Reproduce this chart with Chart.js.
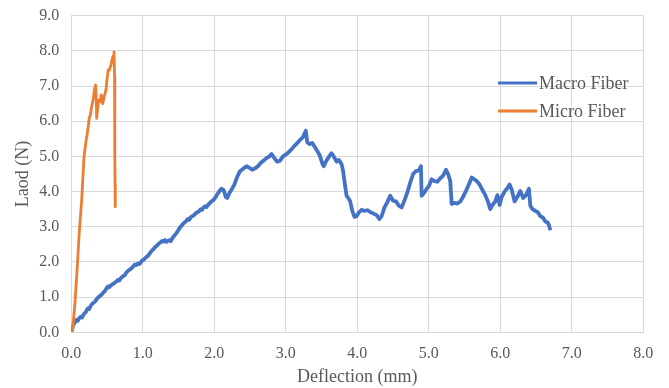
<!DOCTYPE html>
<html>
<head>
<meta charset="utf-8">
<title>Load vs Deflection</title>
<script src="https://cdn.jsdelivr.net/npm/chart.js@4/dist/chart.umd.min.js"></script>
<style>
  html, body { margin: 0; padding: 0; background: #ffffff; }
  #wrap { width: 669px; height: 388px; }
</style>
</head>
<body>
<div id="wrap"><canvas id="c" width="669" height="388"></canvas></div>
<script>
// Axis ranges and labels
const xTicks = [0, 1, 2, 3, 4, 5, 6, 7, 8];
const yTicks = [0, 1, 2, 3, 4, 5, 6, 7, 8, 9];
const seriesNames = ['Macro Fiber', 'Micro Fiber'];
const seriesColors = ['#4472C4', '#ED7D31'];
const xTitle = 'Deflection (mm)';
const yTitle = 'Laod (N)';

// Macro fiber: deflection (mm), load (N)
const macroDeflection = [
  0, 0.01, 0.03, 0.05, 0.07, 0.09, 0.11, 0.13, 0.15, 0.17, 0.19, 0.21, 0.23, 0.25, 0.27, 0.29,
  0.31, 0.33, 0.35, 0.37, 0.39, 0.41, 0.43, 0.45, 0.47, 0.49, 0.51, 0.53, 0.55, 0.57, 0.59, 0.61,
  0.63, 0.65, 0.67, 0.69, 0.71, 0.73, 0.75, 0.77, 0.79, 0.81, 0.83, 0.85, 0.87, 0.89, 0.91, 0.93,
  0.95, 0.97, 0.99, 1.01, 1.03, 1.05, 1.07, 1.09, 1.11, 1.13, 1.15, 1.17, 1.19, 1.21, 1.23, 1.25,
  1.27, 1.29, 1.31, 1.33, 1.35, 1.37, 1.39, 1.41, 1.43, 1.45, 1.47, 1.49, 1.51, 1.53, 1.55, 1.57,
  1.59, 1.61, 1.63, 1.65, 1.67, 1.69, 1.71, 1.73, 1.75, 1.77, 1.79, 1.81, 1.83, 1.85, 1.87, 1.89,
  1.91, 1.93, 1.95, 1.97, 1.99,
  2.02, 2.06, 2.10, 2.13, 2.16, 2.18, 2.21, 2.24, 2.28, 2.32,
  2.36, 2.41, 2.45, 2.49, 2.53, 2.57, 2.61, 2.65, 2.69, 2.73, 2.77, 2.80, 2.84, 2.88, 2.92, 2.96,
  3.00, 3.04, 3.08, 3.12, 3.16, 3.20, 3.24, 3.28, 3.30, 3.33, 3.37, 3.41, 3.45, 3.48, 3.51, 3.53,
  3.56, 3.60, 3.64, 3.67, 3.71, 3.74, 3.78, 3.80, 3.82, 3.85, 3.88, 3.90, 3.93, 3.96, 3.99, 4.02,
  4.06, 4.10, 4.14, 4.18, 4.22, 4.27, 4.31, 4.34, 4.38, 4.42, 4.46, 4.50, 4.54, 4.58, 4.62, 4.66,
  4.70, 4.74, 4.78, 4.82, 4.86, 4.89, 4.90, 4.94, 4.97, 5.00, 5.04, 5.08, 5.12, 5.16, 5.20, 5.24,
  5.27, 5.30, 5.32, 5.36, 5.40, 5.44, 5.48, 5.52, 5.56, 5.60, 5.63, 5.67, 5.71, 5.75, 5.79, 5.83,
  5.86, 5.90, 5.93, 5.96, 5.99, 6.02, 6.06, 6.10, 6.13, 6.16, 6.20, 6.24, 6.28, 6.32, 6.36, 6.40,
  6.42, 6.45, 6.49, 6.53, 6.56, 6.60, 6.63, 6.66, 6.68, 6.70
];
const macroLoad = [
  0, 0.07, 0.22, 0.28, 0.35, 0.33, 0.40, 0.44, 0.42, 0.50, 0.55, 0.60, 0.68, 0.66, 0.75, 0.80,
  0.84, 0.87, 0.93, 0.98, 1.02, 1.05, 1.08, 1.14, 1.17, 1.24, 1.30, 1.28, 1.33, 1.36, 1.38, 1.42,
  1.44, 1.49, 1.47, 1.53, 1.57, 1.60, 1.63, 1.70, 1.74, 1.77, 1.80, 1.84, 1.88, 1.93, 1.91, 1.96,
  1.94, 1.98, 2.04, 2.06, 2.10, 2.14, 2.17, 2.22, 2.28, 2.33, 2.36, 2.42, 2.45, 2.49, 2.53, 2.56,
  2.60, 2.58, 2.62, 2.57, 2.60, 2.62, 2.59, 2.66, 2.72, 2.77, 2.82, 2.88, 2.95, 3.00, 3.05, 3.10,
  3.13, 3.17, 3.22, 3.20, 3.27, 3.30, 3.32, 3.36, 3.40, 3.42, 3.45, 3.50, 3.48, 3.55, 3.58, 3.56,
  3.62, 3.66, 3.70, 3.74, 3.76,
  3.85, 3.98, 4.08, 4.05, 3.85, 3.82, 3.95, 4.05, 4.20, 4.42,
  4.58, 4.66, 4.72, 4.68, 4.62, 4.66, 4.72, 4.82, 4.88, 4.95, 5.00, 5.07, 4.95, 4.85, 4.88, 5.00,
  5.05, 5.12, 5.20, 5.30, 5.38, 5.47, 5.55, 5.73, 5.40, 5.35, 5.38, 5.25, 5.12, 5.00, 4.80, 4.72,
  4.85, 4.98, 5.09, 5.00, 4.85, 4.90, 4.78, 4.60, 4.30, 3.88, 3.80, 3.72, 3.45, 3.28, 3.30, 3.40,
  3.48, 3.45, 3.47, 3.42, 3.38, 3.33, 3.22, 3.30, 3.55, 3.70, 3.88, 3.74, 3.72, 3.60, 3.55, 3.75,
  3.98, 4.25, 4.50, 4.58, 4.60, 4.72, 3.88, 3.98, 4.08, 4.15, 4.35, 4.30, 4.28, 4.38, 4.45, 4.62,
  4.50, 4.30, 3.65, 3.68, 3.66, 3.72, 3.85, 4.02, 4.20, 4.40, 4.36, 4.30, 4.20, 4.05, 3.90, 3.70,
  3.50, 3.65, 3.72, 3.90, 3.62, 3.85, 4.00, 4.10, 4.20, 4.05, 3.72, 3.85, 4.02, 3.82, 3.90, 4.08,
  3.60, 3.50, 3.45, 3.40, 3.30, 3.25, 3.15, 3.12, 3.05, 2.90
];

// Micro fiber: deflection (mm), load (N)
const microDeflection = [
  0, 0.02, 0.05, 0.084, 0.11, 0.145, 0.165, 0.178, 0.20, 0.224, 0.24, 0.25, 0.27, 0.28, 0.31, 0.32,
  0.34, 0.35, 0.355, 0.37, 0.387, 0.40, 0.42, 0.44, 0.46, 0.485, 0.50, 0.517, 0.53, 0.555, 0.57, 0.585,
  0.597, 0.605, 0.607, 0.61, 0.612, 0.615
];
const microLoad = [
  0, 0.10, 0.80, 1.87, 2.80, 3.76, 4.50, 4.99, 5.35, 5.66, 5.90, 6.08, 6.20, 6.37, 6.65, 6.85,
  7.03, 6.60, 6.08, 6.40, 6.60, 6.55, 6.75, 6.50, 6.70, 6.89, 7.20, 7.46, 7.45, 7.60, 7.75, 7.85,
  7.97, 7.30, 6.20, 5.00, 4.20, 3.57
];

const toPoints = (xs, ys) => xs.map((x, i) => ({ x: x, y: ys[i] }));

const TEXT_COLOR = '#595959';
const GRID_COLOR = '#d9d9d9';
const SERIF = "'Liberation Serif', 'Times New Roman', serif";

// Legend drawn inside the plot area, to the right
const insideLegend = {
  id: 'insideLegend',
  afterDatasetsDraw(chart) {
    const ctx = chart.ctx;
    const x0 = 498, x1 = 537, tx = 539;
    const rows = [83, 111];
    ctx.save();
    ctx.font = '18px ' + SERIF;
    ctx.textBaseline = 'middle';
    ctx.textAlign = 'left';
    seriesNames.forEach((name, i) => {
      ctx.strokeStyle = seriesColors[i];
      ctx.lineWidth = 3;
      ctx.beginPath();
      ctx.moveTo(x0, rows[i]);
      ctx.lineTo(x1, rows[i]);
      ctx.stroke();
      ctx.fillStyle = TEXT_COLOR;
      ctx.fillText(name, tx, rows[i] + 1);
    });
    ctx.restore();
  }
};

new Chart(document.getElementById('c'), {
  type: 'scatter',
  data: {
    datasets: [
      {
        label: seriesNames[0],
        data: toPoints(macroDeflection, macroLoad),
        showLine: true,
        borderColor: seriesColors[0],
        backgroundColor: seriesColors[0],
        borderWidth: 3.8,
        borderJoinStyle: 'round',
        pointRadius: 0,
        tension: 0,
        order: 1
      },
      {
        label: seriesNames[1],
        data: toPoints(microDeflection, microLoad),
        showLine: true,
        borderColor: seriesColors[1],
        backgroundColor: seriesColors[1],
        borderWidth: 2.8,
        borderJoinStyle: 'round',
        pointRadius: 0,
        tension: 0,
        order: 0
      }
    ]
  },
  options: {
    responsive: false,
    animation: false,
    devicePixelRatio: 1,
    layout: { padding: { top: 15.7, right: 25.7, bottom: 0, left: 0 } },
    plugins: {
      legend: { display: false },
      tooltip: { enabled: false }
    },
    scales: {
      x: {
        type: 'linear',
        min: xTicks[0],
        max: xTicks[xTicks.length - 1],
        afterBuildTicks(scale) { scale.ticks = xTicks.map(v => ({ value: v })); },
        afterFit(scale) { scale.height = 388 - 332.3; scale.paddingRight = 0; scale.paddingLeft = 0; },
        ticks: {
          color: TEXT_COLOR,
          font: { family: SERIF, size: 16 },
          padding: 12,
          maxRotation: 0,
          callback: v => Number(v).toFixed(1)
        },
        grid: { color: GRID_COLOR, lineWidth: 1, drawTicks: false },
        border: { color: GRID_COLOR, width: 1 },
        title: {
          display: true,
          text: xTitle,
          color: TEXT_COLOR,
          font: { family: SERIF, size: 18 },
          padding: { top: 0, bottom: 0 }
        }
      },
      y: {
        type: 'linear',
        min: yTicks[0],
        max: yTicks[yTicks.length - 1],
        afterBuildTicks(scale) { scale.ticks = yTicks.map(v => ({ value: v })); },
        afterFit(scale) { scale.width = 71.3; scale.paddingTop = 0; scale.paddingBottom = 0; },
        ticks: {
          color: TEXT_COLOR,
          font: { family: SERIF, size: 16 },
          padding: 12,
          callback: v => Number(v).toFixed(1)
        },
        grid: { color: GRID_COLOR, lineWidth: 1, drawTicks: false },
        border: { color: GRID_COLOR, width: 1 },
        title: {
          display: true,
          text: yTitle,
          color: TEXT_COLOR,
          font: { family: SERIF, size: 18 },
          padding: { top: 12.5, bottom: 0 }
        }
      }
    }
  },
  plugins: [insideLegend]
});
</script>
</body>
</html>
